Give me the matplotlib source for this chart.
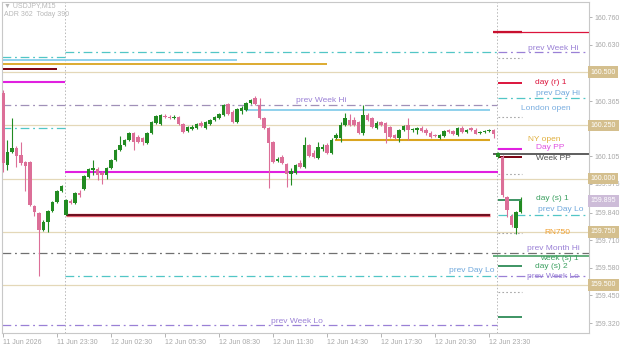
import matplotlib.pyplot as plt

# USDJPY M15, first bar = 11 Jun 20:30, one bar per 15 minutes
opens = [160.402, 160.064, 160.125, 160.143, 160.111, 160.078, 160.078, 159.871, 159.838, 159.758,
         159.795, 159.847, 159.889, 159.941, 159.828, 159.894, 159.885, 159.932, 159.951, 160.007,
         160.040, 160.045, 160.026, 160.016, 160.049, 160.087, 160.134, 160.158, 160.181, 160.214,
         160.195, 160.191, 160.167, 160.214, 160.261, 160.256, 160.294, 160.289, 160.285, 160.289,
         160.256, 160.224, 160.233, 160.238, 160.261, 160.238, 160.256, 160.275, 160.285, 160.299,
         160.351, 160.313, 160.266, 160.318, 160.322, 160.355, 160.379, 160.346, 160.285, 160.238,
         160.172, 160.082, 160.101, 160.068, 160.021, 160.026, 160.073, 160.054, 160.158, 160.120,
         160.096, 160.139, 160.158, 160.120, 160.191, 160.191, 160.252, 160.275, 160.275, 160.266,
         160.214, 160.299, 160.285, 160.238, 160.266, 160.261, 160.242, 160.205, 160.191, 160.228,
         160.252, 160.228, 160.228, 160.238, 160.228, 160.214, 160.205, 160.191, 160.200, 160.228,
         160.224, 160.205, 160.238, 160.219, 160.238, 160.228, 160.214, 160.219, 160.224, 160.228,
         160.101, 160.101, 159.913, 159.824, 159.767, 159.842]
highs = [160.417, 160.181, 160.285, 160.153, 160.172, 160.082, 160.082, 159.875, 159.842, 159.805,
         159.852, 159.894, 159.946, 159.969, 159.904, 159.904, 159.936, 159.946, 160.016, 160.049,
         160.087, 160.054, 160.035, 160.054, 160.092, 160.139, 160.200, 160.186, 160.219, 160.219,
         160.205, 160.195, 160.219, 160.271, 160.299, 160.304, 160.304, 160.299, 160.299, 160.294,
         160.261, 160.247, 160.252, 160.261, 160.271, 160.271, 160.280, 160.294, 160.308, 160.351,
         160.355, 160.322, 160.332, 160.341, 160.360, 160.374, 160.388, 160.379, 160.289, 160.242,
         160.176, 160.101, 160.111, 160.073, 160.049, 160.068, 160.087, 160.195, 160.162, 160.134,
         160.172, 160.162, 160.167, 160.191, 160.214, 160.266, 160.308, 160.304, 160.289, 160.271,
         160.346, 160.308, 160.289, 160.271, 160.271, 160.266, 160.247, 160.209, 160.233, 160.252,
         160.285, 160.238, 160.242, 160.247, 160.238, 160.224, 160.209, 160.209, 160.228, 160.233,
         160.228, 160.242, 160.247, 160.233, 160.242, 160.238, 160.224, 160.228, 160.233, 160.233,
         160.125, 160.111, 159.918, 159.833, 159.847, 159.913]
lows = [160.031, 160.040, 160.120, 160.054, 160.064, 159.941, 159.871, 159.824, 159.541, 159.753,
        159.748, 159.842, 159.885, 159.936, 159.828, 159.880, 159.880, 159.913, 159.946, 160.002,
        160.016, 159.993, 159.974, 159.998, 160.045, 160.082, 160.129, 160.153, 160.176, 160.134,
        160.167, 160.158, 160.162, 160.209, 160.256, 160.252, 160.285, 160.280, 160.280, 160.252,
        160.214, 160.219, 160.228, 160.233, 160.242, 160.233, 160.252, 160.271, 160.280, 160.294,
        160.299, 160.261, 160.261, 160.304, 160.318, 160.351, 160.346, 160.280, 160.233, 159.955,
        160.073, 160.078, 160.068, 159.960, 159.969, 160.021, 160.049, 160.049, 160.101, 160.096,
        160.092, 160.129, 160.115, 160.115, 160.186, 160.172, 160.247, 160.247, 160.247, 160.209,
        160.205, 160.271, 160.238, 160.233, 160.247, 160.167, 160.191, 160.186, 160.172, 160.224,
        160.181, 160.219, 160.209, 160.219, 160.205, 160.191, 160.195, 160.186, 160.195, 160.214,
        160.205, 160.200, 160.214, 160.214, 160.224, 160.209, 160.209, 160.214, 160.219, 160.191,
        160.096, 159.913, 159.819, 159.772, 159.739, 159.838]
closes = [160.073, 160.125, 160.143, 160.106, 160.073, 160.059, 159.875, 159.842, 159.758, 159.795,
          159.847, 159.889, 159.941, 159.965, 159.899, 159.885, 159.932, 159.922, 160.012, 160.045,
          160.049, 160.016, 160.016, 160.049, 160.087, 160.134, 160.158, 160.181, 160.214, 160.172,
          160.172, 160.172, 160.214, 160.266, 160.294, 160.299, 160.289, 160.285, 160.289, 160.256,
          160.219, 160.242, 160.242, 160.256, 160.247, 160.266, 160.275, 160.289, 160.304, 160.346,
          160.304, 160.266, 160.327, 160.332, 160.355, 160.369, 160.351, 160.285, 160.238, 160.167,
          160.078, 160.092, 160.073, 160.021, 160.035, 160.064, 160.054, 160.158, 160.106, 160.101,
          160.148, 160.148, 160.120, 160.181, 160.205, 160.252, 160.285, 160.252, 160.252, 160.214,
          160.299, 160.275, 160.242, 160.261, 160.252, 160.214, 160.195, 160.191, 160.228, 160.247,
          160.228, 160.233, 160.238, 160.224, 160.214, 160.195, 160.200, 160.205, 160.224, 160.219,
          160.209, 160.238, 160.219, 160.228, 160.228, 160.209, 160.219, 160.224, 160.228, 160.209,
          160.120, 159.922, 159.852, 159.781, 159.842, 159.895]

time_labels = ["11 Jun 2026", "11 Jun 23:30", "12 Jun 02:30", "12 Jun 05:30", "12 Jun 08:30",
               "12 Jun 11:30", "12 Jun 14:30", "12 Jun 17:30", "12 Jun 20:30", "12 Jun 23:30"]

price_ticks = [160.760, 160.630, 160.365, 160.105, 159.975, 159.840, 159.710, 159.580, 159.450, 159.320]
round_levels = [160.500, 160.250, 160.000, 159.750, 159.500]
bid = 159.895

# 11 Jun levels (only the tail is visible)
d11_prev_hi, d11_prev_lo = 160.572, 160.238
d11_london, d11_ny, d11_open, d11_pp = 160.558, 160.539, 160.515, 160.454
# 12 Jun levels
d12_prev_hi, d12_prev_lo = 160.595, 159.541
d12_london, d12_ny, d12_open, d12_pp = 160.322, 160.181, 159.828, 160.031
prev_week_hi, prev_week_lo = 160.346, 159.311
prev_month_hi = 159.649
# 13 Jun levels
d13_r2, d13_r1, d13_pp, d13_open = 160.689, 160.449, 160.139, 160.101
d13_s1, d13_s2, d13_s3 = 159.899, 159.588, 159.348
d13_mids = [160.567, 160.289, 160.021, 159.744, 159.466]
d13_prev_hi, d13_prev_lo = 160.379, 159.828
week_pp, week_s1 = 160.115, 159.635
new_prev_week_hi, new_prev_week_lo = 160.595, 159.541

plt.rcParams['font.family'] = ['Liberation Sans', 'DejaVu Sans']

fig = plt.figure(figsize=(6.25, 3.47), dpi=100)
ax = fig.add_axes([2 / 625, 14 / 347, 587 / 625, 331 / 347])
x0, x1 = -0.22, 130.2
ax.set_xlim(x0, x1)
ax.set_ylim(159.273, 160.831)

DD = (0, (7, 3, 1.5, 3))
teal = '#52c6c6'
purple = '#9a80d6'
green = '#2e8b57'

# round numbers
for lv in round_levels:
    ax.axhline(lv, color='#e4d8b8', lw=0.9, zorder=1)

# day separators
for sep in [13.8, 109.8]:
    ax.axvline(sep, color='#b8b8b8', lw=0.7, ls=(0, (1.5, 2)), zorder=1)

# 11 Jun tails
ax.hlines(d11_prev_hi, x0, 13.8, color=teal, lw=0.9, ls=DD)
ax.hlines(d11_prev_lo, x0, 13.8, color=teal, lw=0.9, ls=DD)
ax.hlines(d11_london, x0, 52, color='#87ceeb', lw=1.3)
ax.hlines(d11_ny, x0, 72, color='#daa520', lw=1.3)
ax.hlines(d11_open, x0, 12, color='#7a0010', lw=1.4)
ax.hlines(d11_pp, x0, 13.8, color='#e020e0', lw=1.5)

# 12 Jun levels
ax.hlines([d12_prev_hi, d12_prev_lo], 13.8, 109.8, color=teal, lw=0.9, ls=DD)
ax.hlines(d12_pp, 13.8, 110, color='#e020e0', lw=1.5, zorder=2)
ax.hlines(d12_open, 14, 108.2, color='#e06070', lw=2.4, zorder=2)
ax.hlines(d12_open, 14, 108.2, color='#5a0010', lw=1.2, zorder=2)
ax.hlines(d12_london, 53.8, 108.2, color='#87ceeb', lw=1.3)
ax.hlines(d12_ny, 73.8, 108.2, color='#daa520', lw=1.5)
ax.hlines(prev_week_hi, x0, 109.8, color='#a090b8', lw=0.9, ls=DD)
ax.hlines(prev_week_lo, x0, 109.8, color=purple, lw=0.9, ls=DD)
ax.hlines(prev_month_hi, x0, x1, color='#707070', lw=0.9, ls=DD)

# 13 Jun levels
s0, s1 = 110, 115.3
ax.hlines(d13_r2, 108.9, x1, color='#dc143c', lw=0.9)
ax.hlines(d13_r2, s0 - 1.1, s1, color='#c8102e', lw=1.6)
ax.hlines(d13_r1, s0, s1, color='#dc143c', lw=1.4)
ax.hlines(d13_pp, s0, s1, color='#e020e0', lw=1.5)
ax.hlines(d13_open, s0, s1, color='#7a0010', lw=1.4, zorder=4)
ax.hlines([d13_s1, d13_s2, d13_s3], s0, s1, color=green, lw=1.3)
ax.hlines(d13_mids, s0, s1, color='#a8a8a8', lw=0.8, ls=(0, (1.5, 2)))
ax.hlines([d13_prev_hi, d13_prev_lo], s0, x1, color=teal, lw=0.9, ls=DD)
ax.hlines(week_pp, 108.9, x1, color='#505050', lw=1.3)
ax.hlines(week_s1, 108.9, x1, color='#3a9a5a', lw=1.1)
ax.hlines([new_prev_week_hi, new_prev_week_lo], s0, 130, color=purple, lw=0.9, ls=DD)

# candles
for i in range(len(opens)):
    o, h, l, c = opens[i], highs[i], lows[i], closes[i]
    col = '#228b22' if c >= o else '#dc6f98'
    ax.vlines(i, l, h, color=col, lw=0.8, zorder=5)
    ax.bar(i, max(abs(c - o), 0.003), bottom=min(o, c), width=0.72, color=col, lw=0, zorder=6)

# level labels
fs = 6
labels = [
    ("prev Week Hi", 122.2, 160.614, purple),
    ("day (r) 1", 121.6, 160.454, '#dc143c'),
    ("prev Day Hi", 123.3, 160.398, '#6fa8dc'),
    ("London open", 120.7, 160.332, '#7aaee0'),
    ("NY open", 120.2, 160.186, '#e0b040'),
    ("Day PP", 121.6, 160.148, '#e050e0'),
    ("Week PP", 122.2, 160.096, '#505050'),
    ("day (s) 1", 122.0, 159.904, '#3ca060'),
    ("prev Day Lo", 124.0, 159.856, '#6fa8dc'),
    ("RN750", 123.1, 159.744, '#f0a030'),
    ("prev Month Hi", 122.2, 159.673, purple),
    ("week (s) 1", 123.6, 159.626, '#3ca060'),
    ("day (s) 2", 121.8, 159.584, '#3ca060'),
    ("prev Week Lo", 122.2, 159.541, purple),
    ("prev Week Hi", 70.7, 160.369, purple),
    ("prev Day Lo", 104.2, 159.569, '#6fa8dc'),
    ("prev Week Lo", 65.3, 159.329, purple),
]
for txt, x, y, col in labels:
    ax.text(x, y, txt, color=col, fontsize=fs, ha='center', va='center', zorder=7)

# right price scale
ax.yaxis.tick_right()
ax.set_yticks(price_ticks)
ax.set_yticklabels([f"{p:.3f}" for p in price_ticks])
ax.tick_params(axis='y', labelsize=5, colors='#a8a8a8', length=2, width=0.6, pad=2)
ytr = ax.get_yaxis_transform()
for lv in round_levels:
    ax.text(1.003, lv, f"{lv:.3f}", transform=ytr, fontsize=5, color='white', ha='left', va='center',
            bbox=dict(boxstyle='square,pad=0.35', fc='#d4bf8e', ec='none'), clip_on=False)
ax.text(1.003, bid, f"{bid:.3f}", transform=ytr, fontsize=5, color='white', ha='left', va='center',
        bbox=dict(boxstyle='square,pad=0.35', fc='#cdbcd8', ec='none'), clip_on=False)

# time scale
ax.set_xticks(range(0, 12 * len(time_labels), 12))
ax.set_xticklabels(time_labels, ha='left')
ax.tick_params(axis='x', labelsize=5, colors='#a8a8a8', length=3, width=0.6, pad=1)

for sp in ax.spines.values():
    sp.set_color('#c8c8c8')
    sp.set_linewidth(0.8)

fig.text(4 / 625, 1 - 6 / 347, "\u25bc USDJPY,M15", fontsize=5, color='#b8b8b8', va='center')
fig.text(4 / 625, 1 - 15 / 347, "ADR 362  Today 390", fontsize=5, color='#b8b8b8', va='center')

fig.savefig('out.png', dpi=100)
